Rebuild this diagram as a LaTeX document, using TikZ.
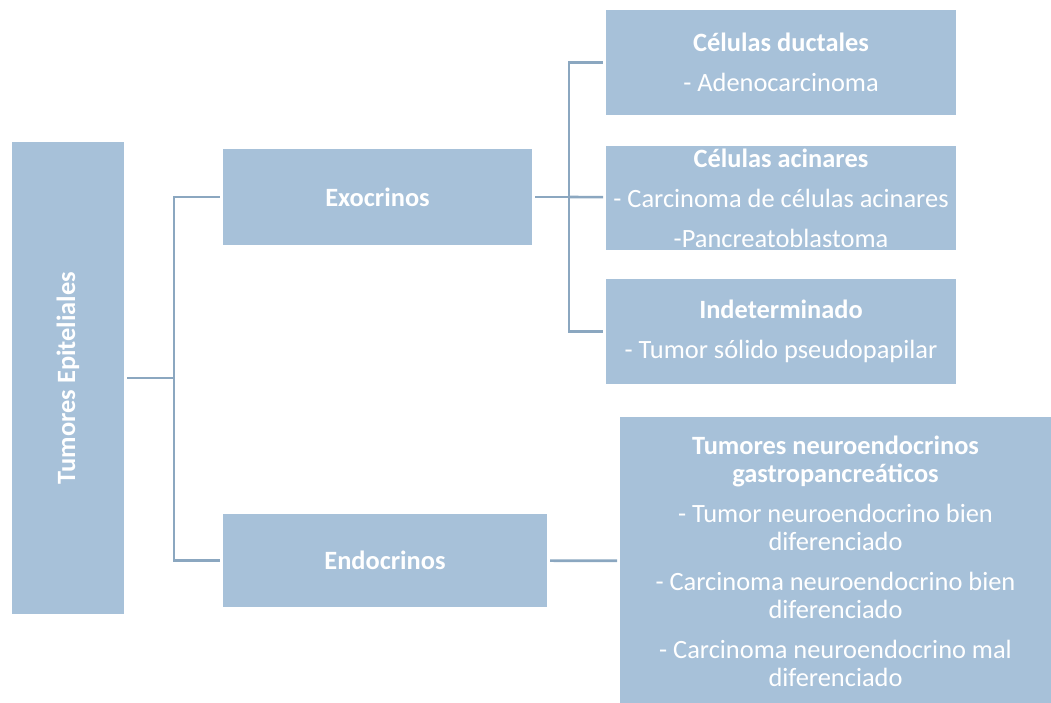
\documentclass[tikz,border=0pt]{standalone}
\usepackage{fontspec}
\setmainfont{Carlito}
\newlength{\du}
\setlength{\du}{1pt}
\definecolor{boxcolor}{rgb}{0.654902, 0.756863, 0.850980}
\definecolor{linkcolor}{rgb}{0.545098, 0.654902, 0.752941}
\tikzset{
  box/.style={rectangle, fill=boxcolor, text=white, align=center, inner sep=0pt,
    outer sep=3\du, font=\fontsize{26.4}{28}\selectfont},
  link/.style={draw=linkcolor, line width=2.6\du}
}
\begin{document}
\begin{tikzpicture}
\pgftransformxscale{1.000000}
\pgftransformyscale{-1.000000}
\useasboundingbox (0\du,0\du) rectangle (1051\du,702\du);
% first level
\node[box, rotate=90, minimum width=472\du, minimum height=112\du] (epit) at (68.000000\du,378.000000\du){\bfseries Tumores Epiteliales};
% second level
\node[box, minimum width=309\du, minimum height=96\du] (exo) at (377.500000\du,197.000000\du){\bfseries Exocrinos};
\node[box, minimum width=324\du, minimum height=93\du] (endo) at (385.000000\du,560.500000\du){\bfseries Endocrinos};
% third level
\node[box, minimum width=350\du, minimum height=105\du] (ductal) at (781.000000\du,62.500000\du){{\bfseries C\'elulas ductales}\\[12\du]- Adenocarcinoma};
\node[box, minimum width=350\du, minimum height=104\du] (acinar) at (781.000000\du,198.000000\du){{\bfseries C\'elulas acinares}\\[12\du]- Carcinoma de c\'elulas acinares\\[12\du]-Pancreatoblastoma};
\node[box, minimum width=350\du, minimum height=105\du] (indet) at (781.000000\du,331.500000\du){{\bfseries Indeterminado}\\[12\du]- Tumor s\'olido pseudopapilar};
\node[box, minimum width=431\du, minimum height=288\du] (neuro) at (835.500000\du,561.000000\du){{\bfseries Tumores neuroendocrinos}\\{\bfseries gastropancre\'aticos}\\[12\du]- Tumor neuroendocrino bien\\diferenciado\\[12\du]- Carcinoma neuroendocrino bien\\diferenciado\\[12\du]- Carcinoma neuroendocrino mal\\diferenciado};
% was here!!!
\coordinate (busa) at (174.000000\du,378.000000\du);
\coordinate (busb) at (569.000000\du,197.000000\du);
\pgfsetbuttcap
{
\draw[link] (epit) -- (busa);
\draw[link] (busa) |- (exo);
\draw[link] (busa) |- (endo);
}
{
\draw[link] (exo) -- (busb);
\draw[link] (busb) -- (acinar);
\draw[link] (busb) |- (ductal);
\draw[link] (busb) |- (indet);
}
{
\draw[link] (endo) -- (neuro);
}
\end{tikzpicture}
\end{document}
